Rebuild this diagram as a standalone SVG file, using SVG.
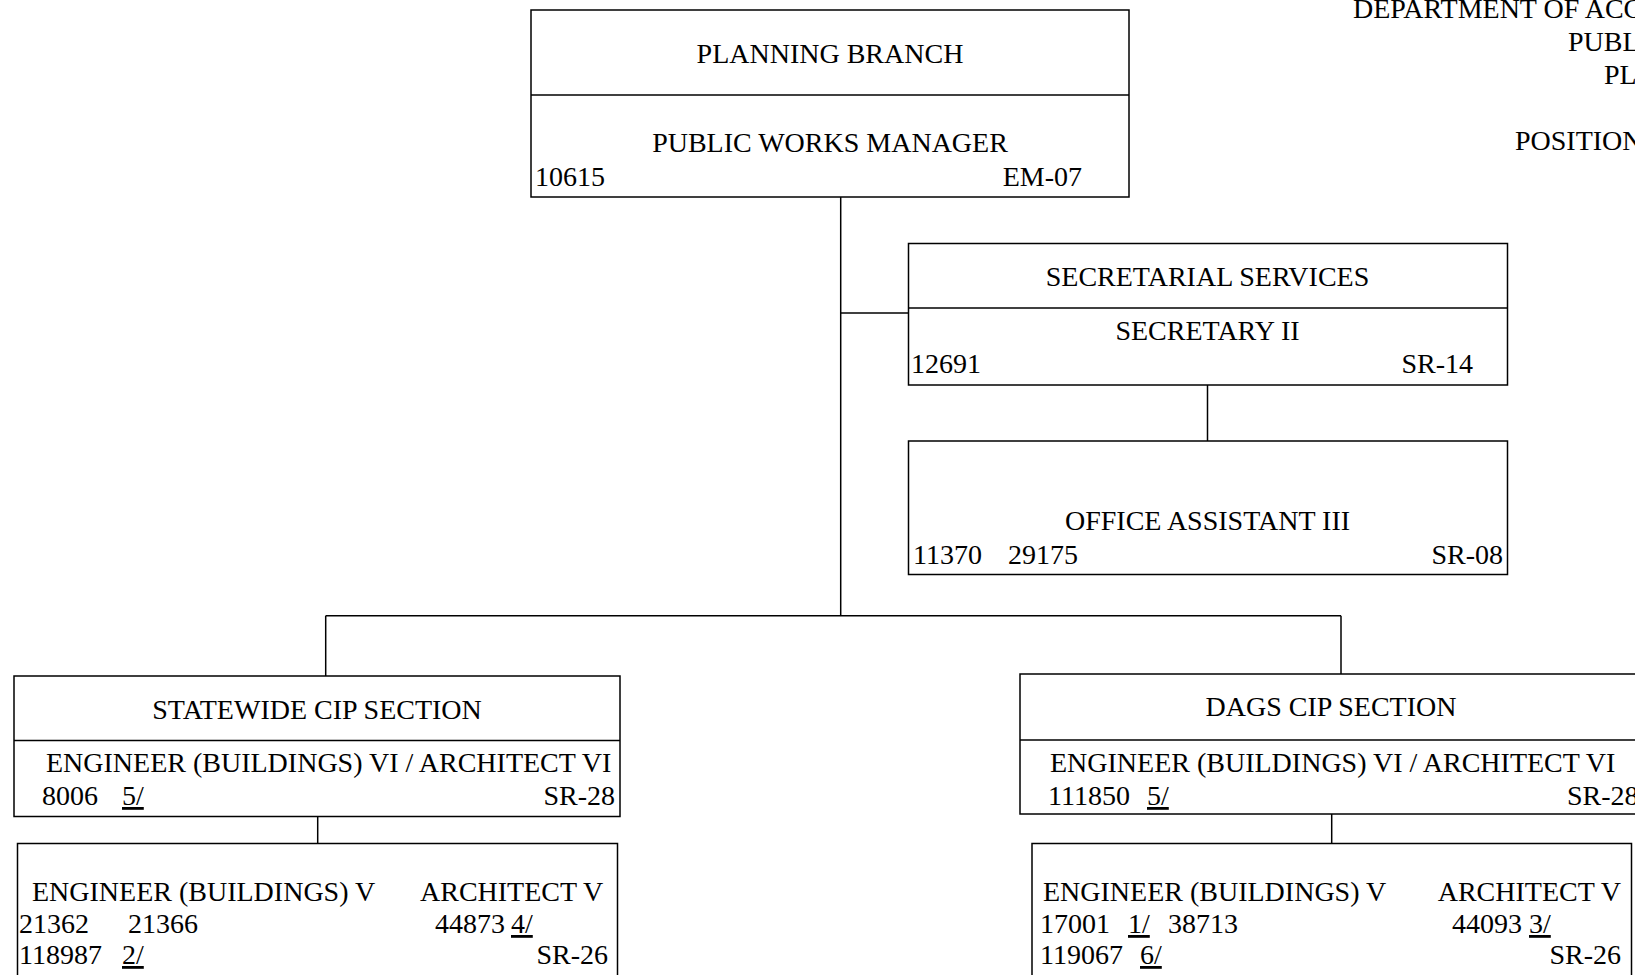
<svg xmlns="http://www.w3.org/2000/svg" width="1635" height="975" viewBox="0 0 1635 975">
<style>
  .box { fill: #ffffff; stroke: #000000; stroke-width: 1.5; }
  .div { stroke: #000000; stroke-width: 1.5; fill: none; }
  .conn { stroke: #000000; stroke-width: 1.5; fill: none; }
  text { font-family: "Liberation Serif", "Times New Roman", serif; font-size: 28px; fill: #000000; }
  .c { text-anchor: middle; }
  .r { text-anchor: end; }
  .u { text-decoration: underline; }
</style>
<rect width="1635" height="975" fill="#ffffff"/>

<g id="title">
  <text x="1353" y="18">DEPARTMENT OF ACC</text>
  <text x="1568" y="51">PUBL</text>
  <text x="1604" y="84">PL</text>
  <text x="1515" y="150">POSITION</text>
</g>

<g id="connectors">
  <path class="conn" d="M840.7 197 V615.7"/>
  <path class="conn" d="M840.7 313 H908.5"/>
  <path class="conn" d="M1207.5 385 V441"/>
  <path class="conn" d="M325.7 615.7 H1341"/>
  <path class="conn" d="M325.7 615.7 V676"/>
  <path class="conn" d="M1341 615.7 V674"/>
  <path class="conn" d="M317.7 816.5 V843.5"/>
  <path class="conn" d="M1331.7 814 V843.5"/>
</g>

<g id="planning-branch">
  <rect class="box" x="531" y="10" width="598" height="187"/>
  <line class="div" x1="531" y1="95" x2="1129" y2="95"/>
  <text class="c" x="830" y="63">PLANNING BRANCH</text>
  <text class="c" x="830" y="152">PUBLIC WORKS MANAGER</text>
  <text x="535" y="186">10615</text>
  <text class="r" x="1082" y="186">EM-07</text>
</g>

<g id="secretarial-services">
  <rect class="box" x="908.5" y="243.5" width="599" height="141.5"/>
  <line class="div" x1="908.5" y1="308" x2="1507.5" y2="308"/>
  <text class="c" x="1207.5" y="286">SECRETARIAL SERVICES</text>
  <text class="c" x="1207.5" y="340">SECRETARY II</text>
  <text x="911" y="373">12691</text>
  <text class="r" x="1473" y="373">SR-14</text>
</g>

<g id="office-assistant">
  <rect class="box" x="908.5" y="441" width="599" height="133.5"/>
  <text class="c" x="1207.5" y="530">OFFICE ASSISTANT III</text>
  <text x="913" y="564">11370<tspan x="1008">29175</tspan></text>
  <text class="r" x="1503" y="564">SR-08</text>
</g>

<g id="statewide-cip">
  <rect class="box" x="14" y="676" width="606" height="140.5"/>
  <line class="div" x1="14" y1="740.5" x2="620" y2="740.5"/>
  <text class="c" x="317" y="719">STATEWIDE CIP SECTION</text>
  <text x="46" y="772">ENGINEER (BUILDINGS) VI / ARCHITECT VI</text>
  <text x="42" y="805">8006<tspan x="122" class="u">5/</tspan></text>
  <text class="r" x="615" y="805">SR-28</text>
</g>

<g id="statewide-engineers">
  <rect class="box" x="17.5" y="843.5" width="600" height="200"/>
  <text x="32" y="901">ENGINEER (BUILDINGS) V</text>
  <text x="420" y="901">ARCHITECT V</text>
  <text x="19" y="933">21362<tspan x="128">21366</tspan></text>
  <text x="435" y="933">44873<tspan x="511" class="u">4/</tspan></text>
  <text x="19" y="964">118987<tspan x="122" class="u">2/</tspan></text>
  <text class="r" x="608" y="964">SR-26</text>
</g>

<g id="dags-cip">
  <rect class="box" x="1020" y="674" width="622" height="140"/>
  <line class="div" x1="1020" y1="740" x2="1642" y2="740"/>
  <text class="c" x="1331" y="716">DAGS CIP SECTION</text>
  <text x="1050" y="772">ENGINEER (BUILDINGS) VI / ARCHITECT VI</text>
  <text x="1048" y="805">111850<tspan x="1147" class="u">5/</tspan></text>
  <text x="1567" y="805">SR-28</text>
</g>

<g id="dags-engineers">
  <rect class="box" x="1032" y="843.5" width="599.5" height="200"/>
  <text x="1043" y="901">ENGINEER (BUILDINGS) V</text>
  <text class="r" x="1621" y="901">ARCHITECT V</text>
  <text x="1040" y="933">17001<tspan x="1128" class="u">1/</tspan><tspan x="1168">38713</tspan></text>
  <text x="1452" y="933">44093 <tspan class="u">3/</tspan></text>
  <text x="1040" y="964">119067<tspan x="1140" class="u">6/</tspan></text>
  <text class="r" x="1621" y="964">SR-26</text>
</g>
</svg>
